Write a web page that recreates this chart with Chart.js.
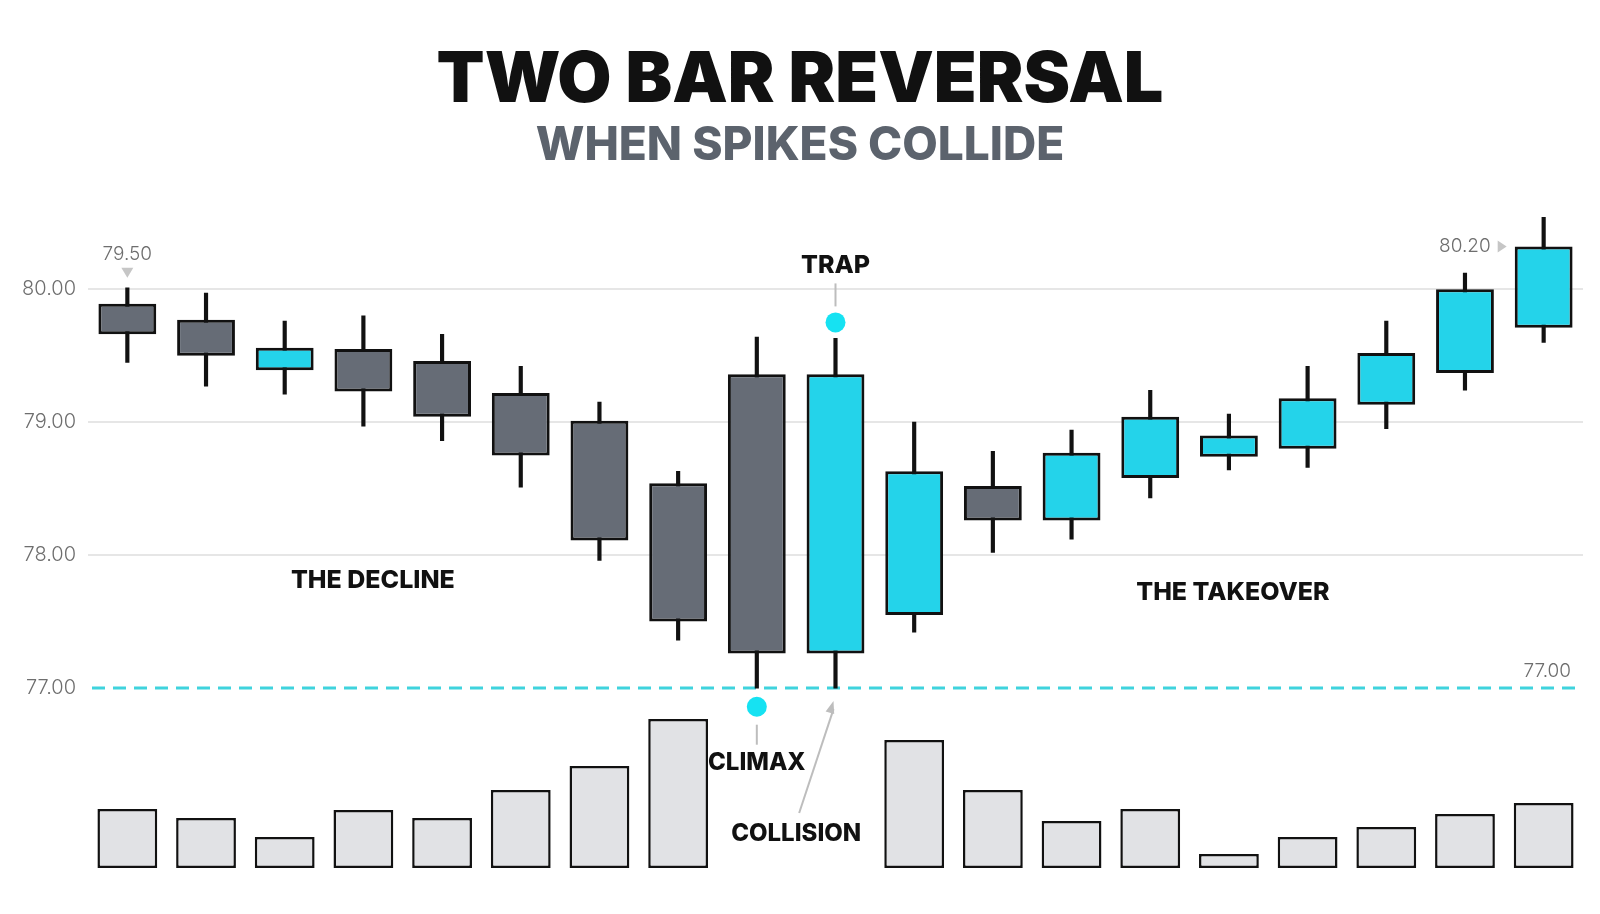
<!DOCTYPE html>
<html>
<head>
<meta charset="utf-8">
<script src="https://cdn.jsdelivr.net/npm/chart.js@4.4.1/dist/chart.umd.min.js"></script>
<style>
  html, body { margin: 0; padding: 0; background: #ffffff; }
  #wrap { width: 1600px; height: 914px; }
</style>
</head>
<body>
<div id="wrap"><canvas id="reversal" width="1600" height="914"></canvas></div>
<script>
// candles
const bars = ['1','2','3','4','5','6','7','8','9','10','11','12','13','14','15','16','17','18','19'];
const opens  = [79.89, 79.77, 79.39, 79.55, 79.46, 79.22, 79.01, 78.54, 79.36, 77.26, 77.55, 78.52, 78.26, 78.58, 78.74, 78.80, 79.13, 79.37, 79.71];
const closes = [79.66, 79.50, 79.56, 79.23, 79.04, 78.75, 78.11, 77.50, 77.26, 79.36, 78.63, 78.26, 78.77, 79.04, 78.90, 79.18, 79.52, 80.00, 80.32];
const highs  = [80.01, 79.97, 79.76, 79.80, 79.66, 79.42, 79.15, 78.63, 79.64, 79.63, 79.00, 78.78, 78.94, 79.24, 79.06, 79.42, 79.76, 80.12, 80.54];
const lows   = [79.45, 79.27, 79.21, 78.97, 78.86, 78.51, 77.96, 77.36, 77.00, 77.00, 77.42, 78.02, 78.12, 78.43, 78.64, 78.66, 78.95, 79.24, 79.60];
const volumes = [59, 50, 31, 58, 50, 78, 102, 149, null, null, 128, 78, 47, 59, 14, 31, 41, 54, 65];
// spike markers (CLIMAX under bar 9, TRAP above bar 10)
const spikes = [null, null, null, null, null, null, null, null, 76.86, 79.75, null, null, null, null, null, null, null, null, null];
const priceTicks = [77, 78, 79, 80];
const support = 77.00;

const CYAN = '#24d3ea';
const GREY = '#666c76';
const INK = '#111111';

const notesPlugin = {
  id: 'notes',
  beforeDatasetsDraw(chart) {
    const { ctx, chartArea, scales: { y } } = chart;
    const yy = y.getPixelForValue(support);
    ctx.save();
    ctx.strokeStyle = '#3fd3dd';
    ctx.lineWidth = 3;
    ctx.setLineDash([13, 8]);
    ctx.beginPath();
    ctx.moveTo(chartArea.left + 4, yy);
    ctx.lineTo(chartArea.right - 4, yy);
    ctx.stroke();
    ctx.restore();
  },
  afterDatasetsDraw(chart) {
    const { ctx, chartArea, scales: { x, y } } = chart;
    ctx.save();

    // small price tags
    ctx.font = '300 19px Inter';
    ctx.fillStyle = '#6e6e6e';
    ctx.textBaseline = 'middle';
    ctx.textAlign = 'right';
    ctx.fillText(support.toFixed(2), chartArea.right - 12, y.getPixelForValue(support) - 17);

    // 79.50 tag over the first bar
    const x0 = x.getPixelForValue(0);
    const h0 = y.getPixelForValue(highs[0]);
    ctx.textAlign = 'center';
    ctx.fillText('79.50', x0, h0 - 34);
    ctx.fillStyle = '#c6c6c6';
    ctx.beginPath();
    ctx.moveTo(x0 - 6, h0 - 20);
    ctx.lineTo(x0 + 6, h0 - 20);
    ctx.lineTo(x0, h0 - 10);
    ctx.closePath();
    ctx.fill();

    // 80.20 tag beside the last bar
    const last = bars.length - 1;
    const xl = x.getPixelForValue(last) - 37;
    const yl = y.getPixelForValue(Math.max(opens[last], closes[last]));
    ctx.beginPath();
    ctx.moveTo(xl - 9, yl - 6);
    ctx.lineTo(xl - 9, yl + 6);
    ctx.lineTo(xl, yl);
    ctx.closePath();
    ctx.fill();
    ctx.fillStyle = '#6e6e6e';
    ctx.textAlign = 'right';
    ctx.fillText('80.20', xl - 16, yl);

    // TRAP
    ctx.strokeStyle = '#bdbdbd';
    ctx.lineWidth = 2;
    const xt = x.getPixelForValue(9);
    const yt = y.getPixelForValue(spikes[9]);
    ctx.beginPath();
    ctx.moveTo(xt, yt - 39);
    ctx.lineTo(xt, yt - 16);
    ctx.stroke();
    ctx.fillStyle = INK;
    ctx.textAlign = 'center';
    ctx.font = '800 25px Inter';
    ctx.fillText('TRAP', xt, yt - 57);

    // CLIMAX
    const xc = x.getPixelForValue(8);
    const yc = y.getPixelForValue(spikes[8]);
    ctx.beginPath();
    ctx.moveTo(xc, yc + 18);
    ctx.lineTo(xc, yc + 38);
    ctx.stroke();
    ctx.font = '800 24px Inter';
    ctx.fillText('CLIMAX', xc, yc + 56);

    // COLLISION with arrow up to the second spike
    const xm = x.getPixelForValue(8.5);
    const tipX = xt - 2;
    const tipY = y.getPixelForValue(lows[9]) + 13;
    const tailX = xm + 3;
    const tailY = 813;
    ctx.beginPath();
    ctx.moveTo(tailX, tailY);
    ctx.lineTo(tipX, tipY + 8);
    ctx.stroke();
    const ang = Math.atan2(tipY - tailY, tipX - tailX);
    ctx.fillStyle = '#bdbdbd';
    ctx.beginPath();
    ctx.moveTo(tipX, tipY);
    ctx.lineTo(tipX - 13 * Math.cos(ang - 0.35), tipY - 13 * Math.sin(ang - 0.35));
    ctx.lineTo(tipX - 13 * Math.cos(ang + 0.35), tipY - 13 * Math.sin(ang + 0.35));
    ctx.closePath();
    ctx.fill();
    ctx.fillStyle = INK;
    ctx.fillText('COLLISION', xm, 834);

    // phase labels
    ctx.font = '800 25px Inter';
    ctx.fillText('THE DECLINE', x.getPixelForValue(3.12), y.getPixelForValue(77.81));
    ctx.fillText('THE TAKEOVER', x.getPixelForValue(14.05), y.getPixelForValue(77.72));

    ctx.restore();
  }
};

const chart = new Chart(document.getElementById('reversal'), {
  data: {
    labels: bars,
    datasets: [
      {
        type: 'bar',
        label: 'wick',
        data: lows.map((l, i) => [l, highs[i]]),
        backgroundColor: INK,
        barThickness: 3.5,
        grouped: false,
        order: 3,
        yAxisID: 'y'
      },
      {
        type: 'bar',
        label: 'body',
        data: opens.map((o, i) => [o, closes[i]]),
        backgroundColor: opens.map((o, i) => closes[i] >= o ? CYAN : GREY),
        borderColor: INK,
        borderWidth: 3,
        borderSkipped: false,
        barPercentage: 0.735,
        categoryPercentage: 1,
        grouped: false,
        order: 2,
        yAxisID: 'y'
      },
      {
        type: 'bar',
        label: 'volume',
        data: volumes,
        backgroundColor: '#e1e2e5',
        borderColor: INK,
        borderWidth: 2.5,
        borderSkipped: false,
        barPercentage: 0.76,
        categoryPercentage: 1,
        grouped: false,
        order: 4,
        yAxisID: 'yVol'
      },
      {
        type: 'line',
        label: 'spikes',
        data: spikes,
        showLine: false,
        pointRadius: 10,
        pointBackgroundColor: '#16e2f2',
        pointBorderWidth: 0,
        order: 0,
        yAxisID: 'y'
      }
    ]
  },
  options: {
    responsive: false,
    animation: false,
    devicePixelRatio: 1,
    layout: { padding: { top: 0, right: 0, bottom: 46, left: 0 } },
    plugins: {
      legend: { display: false },
      tooltip: { enabled: false },
      title: {
        display: true,
        text: 'TWO BAR REVERSAL',
        color: INK,
        font: { family: 'Inter', size: 70, weight: '900', lineHeight: 1.1 },
        padding: { top: 42, bottom: 0 }
      },
      subtitle: {
        display: true,
        text: 'WHEN SPIKES COLLIDE',
        color: '#5c636d',
        font: { family: 'Inter', size: 46, weight: '800', lineHeight: 1.2 },
        padding: { top: 0, bottom: 26 }
      }
    },
    scales: {
      x: {
        display: false,
        offset: true,
        grid: { display: false }
      },
      y: {
        position: 'left',
        min: 75.647,
        max: 80.669,
        afterBuildTicks: (axis) => { axis.ticks = priceTicks.map(v => ({ value: v })); },
        afterFit: (axis) => { axis.width = 88; },
        border: { display: false },
        grid: {
          drawTicks: false,
          lineWidth: 2,
          color: (c) => (c.tick && c.tick.value === support) ? 'rgba(0,0,0,0)' : '#e6e6e6'
        },
        ticks: {
          padding: 12,
          color: '#6e6e6e',
          font: { family: 'Inter', size: 20, weight: '300' },
          callback: (v) => Number(v).toFixed(2)
        }
      },
      yVol: {
        position: 'right',
        min: 0,
        max: 668,
        afterFit: (axis) => { axis.width = 17; },
        border: { display: false },
        grid: { display: false },
        ticks: { display: false }
      }
    }
  },
  plugins: [notesPlugin]
});
</script>
</body>
</html>
